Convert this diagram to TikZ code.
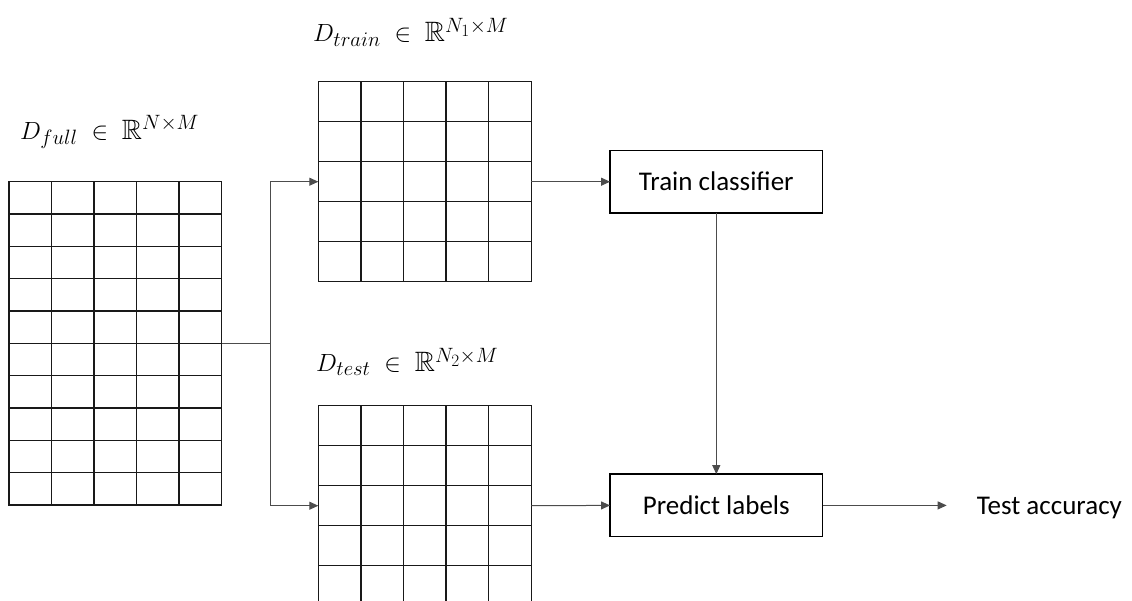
\documentclass[tikz,border=0pt]{standalone}
\usepackage[no-math]{fontspec}
\usepackage{amsmath,amssymb}
\setmainfont{Carlito}
\usetikzlibrary{arrows.meta,calc}
\DeclareMathSizes{28}{28}{22}{16}

% inner cell lines of a data-matrix node: #1 node name, #2 columns, #3 rows
\newcommand{\gridcells}[3]{%
  \pgfmathtruncatemacro{\gcols}{#2-1}%
  \pgfmathtruncatemacro{\grows}{#3-1}%
  \foreach \i in {1,...,\gcols}{%
    \draw[gridline] ($(#1.north west)!{\i/#2}!(#1.north east)$) -- ($(#1.south west)!{\i/#2}!(#1.south east)$);}%
  \foreach \j in {1,...,\grows}{%
    \draw[gridline] ($(#1.north west)!{\j/#3}!(#1.south west)$) -- ($(#1.north east)!{\j/#3}!(#1.south east)$);}%
}

\begin{document}
\begin{tikzpicture}[x=1pt,y=-1pt,
  gridline/.style={draw=black!90, line width=1.5pt},
  matrixbox/.style={draw=black!90, line width=1.5pt, inner sep=0pt, outer sep=0pt, anchor=north west},
  stepbox/.style={draw=black, line width=1.4pt, inner sep=0pt, outer sep=0pt,
    minimum width=212.5pt, minimum height=62.5pt, font=\fontsize{27}{32}\selectfont},
  conn/.style={draw=black!70, line width=1pt},
  tip/.style={-{Triangle[length=9pt,width=8pt]}},
  mathlabel/.style={anchor=base west, inner sep=0pt, font=\fontsize{28}{33}\selectfont},
]
\useasboundingbox (0,0) rectangle (1132,600);

% data matrices
\node[matrixbox, minimum width=212.7pt, minimum height=323.3pt] (full) at (9,181.7) {};
\node[matrixbox, minimum width=213pt, minimum height=200pt] (train) at (318.3,81.7) {};
\node[matrixbox, minimum width=213pt, minimum height=200pt] (test) at (318.3,405.7) {};
\gridcells{full}{5}{10}
\gridcells{train}{5}{5}
\gridcells{test}{5}{5}

% matrix captions
\node[mathlabel] (lfull) at (20,139) {$D_{full}\;\in\;\mathbb{R}^{N\times M}$};
\node[mathlabel] (ltrain) at (313,41.5) {$D_{train}\;\in\;\mathbb{R}^{N_1\times M}$};
\node[mathlabel] (ltest) at (316,371.7) {$D_{test}\;\in\;\mathbb{R}^{N_2\times M}$};

% processing steps
\node[stepbox] (cls) at (716.3,181.7) {Train classifier};
\node[stepbox] (pred) at (716.3,505.4) {Predict labels};
\node[anchor=west, inner xsep=30pt, inner ysep=0pt, text depth=0pt, font=\fontsize{27}{32}\selectfont] (acc) at (946.7,505.4) {Test accuracy};

% connectors
\coordinate (fork) at ($(full.east)+(48.6,0)$);
\draw[conn] (full.east) -- (fork);
\draw[conn,tip] (fork) |- (train.west);
\draw[conn,tip] (fork) |- (test.west);
\draw[conn,tip] (train.east) -- (cls.west);
\draw[conn,tip] (cls.south) -- (pred.north);
\draw[conn,tip] (test.east) -- (pred.west);
\draw[conn,tip] (pred.east) -- (acc.west);
\end{tikzpicture}
\end{document}
